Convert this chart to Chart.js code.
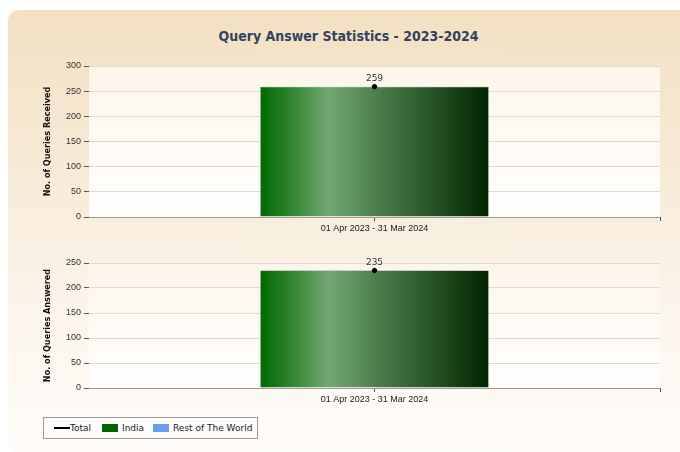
<!DOCTYPE html>
<html>
<head>
<meta charset="utf-8">
<script src="https://cdn.jsdelivr.net/npm/chart.js@4/dist/chart.umd.min.js"></script>
<style>
html,body{margin:0;padding:0;width:680px;height:452px;background:#fff;overflow:hidden;font-family:"Liberation Sans",Arial,sans-serif;}
#panel{position:absolute;left:8px;top:10px;width:690px;height:445px;border-radius:10px;
background:linear-gradient(to bottom,#f3e0c3 0%,#f7ead6 35%,#fbf4ea 65%,#fefcf9 100%);}
#title{position:absolute;left:0;top:28px;width:697px;text-align:center;font:bold 14px "DejaVu Sans Condensed","DejaVu Sans",sans-serif;color:#33425f;}
canvas{position:absolute;left:0;}
#c1{top:50px;}
#c2{top:250px;}
#legend{position:absolute;left:43px;top:417px;width:213px;height:20px;border:1px solid #9a9a9a;background:#fdfcfa;
font:9px "DejaVu Sans","Liberation Sans",sans-serif;color:#222;}
.li{position:absolute;top:0;height:20px;line-height:20px;white-space:nowrap;}
.sw{position:absolute;top:6px;width:16px;height:8px;}
</style>
</head>
<body>
<div id="panel"></div>
<div id="title">Query Answer Statistics - 2023-2024</div>
<canvas id="c1" width="680" height="190"></canvas>
<canvas id="c2" width="680" height="170"></canvas>
<div id="legend"></div>
<script>
const categories = ["01 Apr 2023 - 31 Mar 2024"];
const seriesNames = ["Total", "India", "Rest of The World"];
const seriesColors = ["#000000", "#006400", "#6a9fee"];
const receivedIndia = [259];
const receivedRest = [0];
const receivedTotal = [259];
const answeredIndia = [235];
const answeredRest = [0];
const answeredTotal = [235];
const receivedAxis = {min: 0, max: 300, step: 50};
const answeredAxis = {min: 0, max: 250, step: 50};
const yTitles = ["No. of Queries Received", "No. of Queries Answered"];

const tickFont = {family: "Liberation Sans", size: 9};
const BAR_PCT = 0.4;

function barGradient(ctx) {
  const chart = ctx.chart;
  const xs = chart.scales && chart.scales.x;
  if (!xs || !chart.chartArea) return seriesColors[1];
  const cx = xs.getPixelForValue(ctx.dataIndex);
  const w = (xs.width / categories.length) * BAR_PCT;
  if (!isFinite(cx) || !isFinite(w)) return seriesColors[1];
  const x0 = cx - w / 2, x1 = cx + w / 2;
  const g = chart.ctx.createLinearGradient(x0, 0, x1, 0);
  g.addColorStop(0, "#006a00");
  g.addColorStop(0.1, "#237d23");
  g.addColorStop(0.3, "#72a872");
  g.addColorStop(0.5, "#4d804d");
  g.addColorStop(0.75, "#275427");
  g.addColorStop(1, "#002400");
  return g;
}

const plotBg = {
  id: "plotBg",
  beforeDraw(chart) {
    const {ctx, chartArea: a} = chart;
    const g = ctx.createLinearGradient(0, a.top, 0, a.bottom);
    g.addColorStop(0, "#fcf5ea");
    g.addColorStop(1, "#ffffff");
    ctx.save();
    ctx.fillStyle = g;
    ctx.fillRect(a.left, a.top, a.right - a.left, a.bottom - a.top);
    ctx.restore();
  },
  afterDraw(chart) {
    const {ctx, chartArea: a} = chart;
    ctx.save();
    ctx.strokeStyle = "#555";
    ctx.lineWidth = 1;
    ctx.beginPath();
    ctx.moveTo(Math.round(a.right) + 0.5, a.bottom);
    ctx.lineTo(Math.round(a.right) + 0.5, a.bottom + 4);
    ctx.stroke();
    ctx.restore();
  }
};

const valueLabels = {
  id: "valueLabels",
  afterDatasetsDraw(chart) {
    const {ctx} = chart;
    chart.data.datasets.forEach((ds, i) => {
      if (ds.type !== "line") return;
      const meta = chart.getDatasetMeta(i);
      meta.data.forEach((pt, j) => {
        ctx.save();
        ctx.font = "9px 'DejaVu Sans', sans-serif";
        ctx.fillStyle = "#333";
        ctx.textAlign = "center";
        ctx.textBaseline = "bottom";
        ctx.fillText(String(ds.data[j]), pt.x, pt.y - 3);
        ctx.restore();
      });
    });
  }
};

function makeChart(id, india, rest, total, axis, title, pad) {
  return new Chart(document.getElementById(id), {
    type: "bar",
    data: {
      labels: categories,
      datasets: [
        {type: "line", label: seriesNames[0], data: total, borderColor: "#000", backgroundColor: "#000",
         pointRadius: 2.2, pointHoverRadius: 2.2, showLine: true, order: 0},
        {label: seriesNames[1], data: india, backgroundColor: barGradient, borderColor: "#3b5b3b", borderWidth: 0.6,
         stack: "s", order: 2, barPercentage: BAR_PCT, categoryPercentage: 1},
        {label: seriesNames[2], data: rest, backgroundColor: seriesColors[2], stack: "s", order: 3,
         barPercentage: BAR_PCT, categoryPercentage: 1}
      ]
    },
    options: {
      responsive: false, animation: false, devicePixelRatio: 1,
      layout: {padding: pad},
      plugins: {legend: {display: false}, tooltip: {enabled: false}, title: {display: false}},
      scales: {
        x: {
          stacked: true, offset: true,
          grid: {display: true, drawOnChartArea: false, offset: false, tickLength: 4, color: "#555"},
          border: {display: true, color: "#9a9a9a"},
          ticks: {font: tickFont, color: "#222", padding: 2},
          afterFit(s) { s.height = 23; }
        },
        y: {
          stacked: true, min: axis.min, max: axis.max,
          ticks: {stepSize: axis.step, font: tickFont, color: "#333", padding: 3},
          grid: {color: "#dedad4", tickLength: 5, tickColor: "#555", lineWidth: 1},
          border: {display: false},
          title: {display: true, text: title, font: {family: "DejaVu Sans Condensed", size: 9, weight: "bold"}, color: "#111", padding: 0},
          afterFit(s) { s.width = 47; }
        }
      }
    },
    plugins: [plotBg, valueLabels]
  });
}

makeChart("c1", receivedIndia, receivedRest, receivedTotal, receivedAxis, yTitles[0], {left: 42, right: 20, top: 16, bottom: 0});
makeChart("c2", answeredIndia, answeredRest, answeredTotal, answeredAxis, yTitles[1], {left: 42, right: 20, top: 13, bottom: 9});

// legend
const legend = document.getElementById("legend");
const legendPos = [[10, 26], [58, 78], [109, 129]];
seriesNames.forEach((name, i) => {
  const sw = document.createElement("div");
  sw.className = "sw";
  sw.style.left = legendPos[i][0] + "px";
  if (i === 0) {
    sw.style.top = "9px"; sw.style.height = "2px"; sw.style.background = seriesColors[0];
  } else {
    sw.style.background = seriesColors[i];
  }
  legend.appendChild(sw);
  const t = document.createElement("div");
  t.className = "li";
  t.style.left = legendPos[i][1] + "px";
  t.textContent = name;
  legend.appendChild(t);
});
</script>
</body>
</html>
